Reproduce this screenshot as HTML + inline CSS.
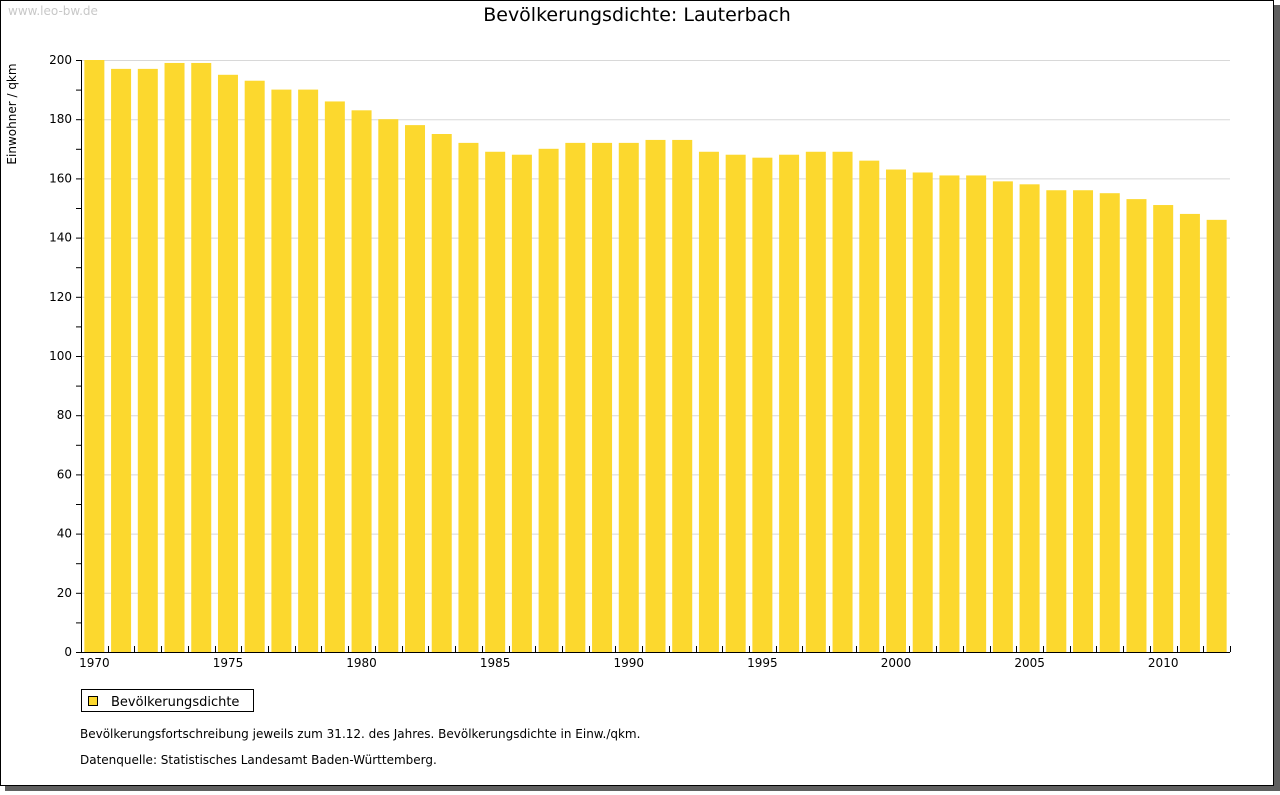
<!DOCTYPE html>
<html><head><meta charset="utf-8"><style>
body{margin:0;background:#fff;width:1280px;height:791px;overflow:hidden;font-family:"DejaVu Sans","Liberation Sans",sans-serif}
</style></head><body>
<svg id="c" width="1280" height="791" xmlns="http://www.w3.org/2000/svg">
<rect x="5" y="5" width="1275" height="786" fill="#5f5f5f"/>
<rect x="0.5" y="0.5" width="1273" height="785" fill="#fff" stroke="#000"/>
<text x="8" y="15" font-size="12" fill="#c8c8c8">www.leo-bw.de</text>
<text x="637" y="21" font-size="19" text-anchor="middle" fill="#000">Bevölkerungsdichte: Lauterbach</text>
<text transform="translate(16,114) rotate(-90)" font-size="12" text-anchor="middle">Einwohner / qkm</text>
<g id="grid"></g><g id="bars"></g><g id="axes"></g>
<rect x="81.5" y="689.5" width="172" height="22" fill="#fff" stroke="#000"/>
<rect x="88.5" y="696.5" width="9" height="9" fill="#fcd82e" stroke="#000"/>
<text x="111" y="706" font-size="13">Bevölkerungsdichte</text>
<text x="80" y="738" font-size="12">Bevölkerungsfortschreibung jeweils zum 31.12. des Jahres. Bevölkerungsdichte in Einw./qkm.</text>
<text x="80" y="764" font-size="12">Datenquelle: Statistisches Landesamt Baden-Württemberg.</text>
</svg>
<script>
const years=[1970,1971,1972,1973,1974,1975,1976,1977,1978,1979,1980,1981,1982,1983,1984,1985,1986,1987,1988,1989,1990,1991,1992,1993,1994,1995,1996,1997,1998,1999,2000,2001,2002,2003,2004,2005,2006,2007,2008,2009,2010,2011,2012];
const values=[200,197,197,199,199,195,193,190,190,186,183,180,178,175,172,169,168,170,172,172,172,173,173,169,168,167,168,169,169,166,163,162,161,161,159,158,156,156,155,153,151,148,146];
const yTicks=[0,20,40,60,80,100,120,140,160,180,200];
const NS="http://www.w3.org/2000/svg";
const X0=81,X1=1230,Y0=652,Y1=60,YMAX=200;
const cw=(X1-X0)/years.length;
const y=v=>Y0-(v/YMAX)*(Y0-Y1);
const xc=i=>X0+cw*(i+0.5);
function mk(tag,attrs,parent){const e=document.createElementNS(NS,tag);for(const k in attrs)e.setAttribute(k,attrs[k]);document.getElementById(parent).appendChild(e);return e;}
yTicks.forEach(t=>{
  if(t>0){const g=mk('line',{x1:X0,x2:X1,y1:y(t)+0.5,y2:y(t)+0.5,stroke:'#d8d8d8'},'grid');
  
  }
  const l=mk('text',{x:72,y:y(t)+4,'font-size':12,'text-anchor':'end'},'axes');l.textContent=t;
  
  
});
for(let v=0;v<=YMAX;v+=10){mk('line',{x1:X0-5,x2:X0,y1:y(v)+0.5,y2:y(v)+0.5,stroke:'#000'},'axes');}
values.forEach((v,i)=>{
  const b=mk('rect',{x:xc(i)-10,y:y(v),width:20,height:Y0-y(v),fill:'#fcd82e'},'bars');
  
  
});
for(let i=1;i<=years.length;i++){const xx=Math.round(X0+cw*i)+0.5;mk('line',{x1:xx,x2:xx,y1:Y0,y2:Y0-6,stroke:'#000'},'axes');}
years.forEach((yr,i)=>{if(yr%5===0){const t=mk('text',{x:xc(i),y:Y0+15,'font-size':12,'text-anchor':'middle'},'axes');t.textContent=yr;
  
  }});
const ya=mk('line',{x1:X0+0.5,x2:X0+0.5,y1:Y1,y2:Y0,stroke:'#000'},'axes');


const xa=mk('line',{x1:X0,x2:X1,y1:Y0+0.5,y2:Y0+0.5,stroke:'#000'},'axes');


</script>
</body></html>
